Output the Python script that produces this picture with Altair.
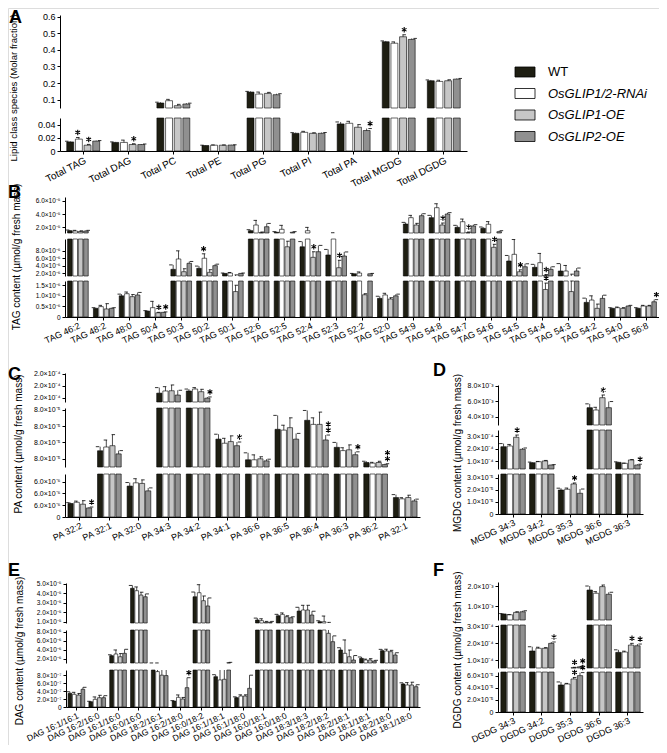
import altair as alt
import pandas as pd

W, H = 651, 737
M = 8  # page margin: page pixel -> plot pixel

GENOS = ["WT", "OsGLIP1/2-RNAi", "OsGLIP1-OE", "OsGLIP2-OE"]
FILLS = ["#1e1e12", "#ffffff", "#c6c6c6", "#909090"]
STAR_PATH = "M0,-1L0,1M-0.866,-0.5L0.866,0.5M-0.866,0.5L0.866,-0.5"

# ---------------- Panel A : lipid classes (molar fraction)
A_CATS = ["Total TAG", "Total DAG", "Total PC", "Total PE", "Total PG",
          "Total PI", "Total PA", "Total MGDG", "Total DGDG"]
A_WT = [0.0138, 0.0130, 0.080, 0.0083, 0.146, 0.0268, 0.041, 0.449, 0.214]
A_RNAI = [0.0180, 0.0130, 0.094, 0.0088, 0.134, 0.0283, 0.042, 0.440, 0.210]
A_OE1 = [0.0088, 0.0098, 0.064, 0.0088, 0.138, 0.0268, 0.036, 0.479, 0.214]
A_OE2 = [0.0150, 0.0098, 0.074, 0.0090, 0.130, 0.0268, 0.031, 0.463, 0.224]
A_WT_SD = [0.0010, 0.0008, 0.005, 0.0005, 0.004, 0.0010, 0.003, 0.005, 0.005]
A_RNAI_SD = [0.0025, 0.0035, 0.008, 0.0004, 0.012, 0.0015, 0.003, 0.008, 0.007]
A_OE1_SD = [0.0012, 0.0012, 0.008, 0.0004, 0.006, 0.0008, 0.004, 0.012, 0.006]
A_OE2_SD = [0.0008, 0.0008, 0.005, 0.0004, 0.006, 0.0012, 0.003, 0.006, 0.004]
A_STARS = [(0, 1, 1), (0, 2, 1), (1, 2, 1), (6, 3, 1), (7, 2, 1)]
A_T1 = [0.1, 0.2, 0.3, 0.4, 0.5, 0.6]
A_L1 = ["0.1", "0.2", "0.3", "0.4", "0.5", "0.6"]
A_T2 = [0, 0.02, 0.04]
A_L2 = ["0", "0.02", "0.04"]

# ---------------- Panel B : TAG species
B_CATS = ["TAG 46:2", "TAG 48:2", "TAG 48:0", "TAG 50:4", "TAG 50:3", "TAG 50:2",
          "TAG 50:1", "TAG 52:6", "TAG 52:5", "TAG 52:4", "TAG 52:3", "TAG 52:2",
          "TAG 52:0", "TAG 54:9", "TAG 54:8", "TAG 54:7", "TAG 54:6", "TAG 54:5",
          "TAG 54:4", "TAG 54:3", "TAG 54:2", "TAG 54:0", "TAG 56:8"]
B_WT = [1.50e-5, 0.41e-6, 1.00e-6, 0.28e-6, 3.00e-6, 3.28e-6, 1.90e-6, 1.50e-5,
        1.26e-5, 9.10e-6, 6.88e-6, 1.80e-6, 0.88e-6, 2.51e-5, 3.47e-5, 2.01e-5,
        1.86e-5, 5.25e-6, 3.55e-6, 2.55e-6, 0.69e-6, 0.41e-6, 0.41e-6]
B_RNAI = [1.45e-5, 0.49e-6, 1.10e-6, 0.44e-6, 5.80e-6, 6.00e-6, 2.00e-6, 2.36e-5,
          1.71e-5, 1.50e-5, 1.14e-5, 2.00e-6, 1.04e-6, 3.47e-5, 4.98e-5, 2.86e-5,
          2.47e-5, 7.06e-6, 4.80e-6, 2.55e-6, 0.80e-6, 0.44e-6, 0.52e-6]
B_OE1 = [1.38e-5, 0.38e-6, 0.96e-6, 0.20e-6, 2.36e-6, 2.20e-6, 1.20e-6, 1.20e-5,
         9.10e-6, 6.25e-6, 3.44e-6, 1.05e-6, 0.85e-6, 2.36e-5, 2.36e-5, 1.20e-5,
         8.96e-6, 2.36e-6, 1.30e-6, 1.20e-6, 0.41e-6, 0.41e-6, 0.52e-6]
B_OE2 = [1.45e-5, 0.41e-6, 1.04e-6, 0.22e-6, 4.63e-6, 4.00e-6, 1.90e-6, 2.10e-5,
         1.26e-5, 7.77e-6, 6.60e-6, 1.80e-6, 1.00e-6, 3.77e-5, 4.03e-5, 2.21e-5,
         1.35e-5, 3.70e-6, 3.00e-6, 2.55e-6, 0.88e-6, 0.52e-6, 0.72e-6]
B_WT_SD = [0.10e-5, 0.03e-6, 0.08e-6, 0.02e-6, 1.2e-6, 0.6e-6, 0.10e-6, 0.15e-5,
           0.10e-5, 1.4e-6, 1.5e-6, 0.10e-6, 0.10e-6, 0.25e-5, 0.35e-5, 0.30e-5,
           0.20e-5, 1.5e-6, 0.8e-6, 2.0e-6, 0.20e-6, 0.03e-6, 0.03e-6]
B_RNAI_SD = [0.10e-5, 0.06e-6, 0.08e-6, 0.30e-6, 2.2e-6, 1.2e-6, 0.15e-6, 0.70e-5,
             0.60e-5, 0.50e-5, 0.05e-5, 0.30e-6, 0.08e-6, 0.35e-5, 0.60e-5, 0.40e-5,
             0.40e-5, 4.0e-6, 2.5e-6, 1.5e-6, 0.20e-6, 0.03e-6, 0.03e-6]
B_OE1_SD = [0.10e-5, 0.25e-6, 0.10e-6, 0.02e-6, 0.8e-6, 0.7e-6, 0.30e-6, 0.10e-5,
            1.5e-6, 1.5e-6, 2.0e-6, 0.05e-6, 0.06e-6, 0.25e-5, 0.30e-5, 0.10e-5,
            0.8e-6, 0.5e-6, 0.3e-6, 0.5e-6, 0.20e-6, 0.03e-6, 0.03e-6]
B_OE2_SD = [0.10e-5, 0.03e-6, 0.12e-6, 0.02e-6, 0.5e-6, 0.4e-6, 0.10e-6, 0.50e-5,
            0.10e-5, 1.7e-6, 1.1e-6, 0.10e-6, 0.08e-6, 0.30e-5, 0.20e-5, 0.20e-5,
            0.15e-5, 0.8e-6, 0.7e-6, 0.8e-6, 0.15e-6, 0.03e-6, 0.10e-6]
B_STARS = [(3, 2, 1), (3, 3, 1), (5, 1, 1), (9, 2, 1), (10, 2, 1),
           (14, 2, 1), (15, 2, 1), (16, 2, 1), (17, 2, 1), (18, 2, 1),
           (22, 3, 1)]
B_T1 = [2e-5, 4e-5, 6e-5]
B_L1 = ["2.0×10⁻⁵", "4.0×10⁻⁵", "6.0×10⁻⁵"]
B_T2 = [2e-6, 4e-6, 6e-6, 8e-6]
B_L2 = ["2.0×10⁻⁶", "4.0×10⁻⁶", "6.0×10⁻⁶", "8.0×10⁻⁶"]
B_T3 = [0, 0.5e-6, 1.0e-6, 1.5e-6]
B_L3 = ["0", "0.5×10⁻⁶", "1.0×10⁻⁶", "1.5×10⁻⁶"]

# ---------------- Panel C : PA species
C_CATS = ["PA 32:2", "PA 32:1", "PA 32:0", "PA 34:3", "PA 34:2", "PA 34:1",
          "PA 36:6", "PA 36:5", "PA 36:4", "PA 36:3", "PA 36:2", "PA 32:1"]
C_WT = [2.29e-6, 7.698e-5, 5.25e-6, 1.70e-4, 1.79e-4, 7.84e-5, 7.588e-5, 7.96e-5,
        8.07e-5, 7.74e-5, 7.555e-5, 3.30e-6]
C_RNAI = [2.50e-6, 7.744e-5, 5.80e-6, 1.79e-4, 1.87e-4, 7.79e-5, 7.588e-5, 7.95e-5,
          8.02e-5, 7.70e-5, 7.547e-5, 3.08e-6]
C_OE1 = [2.17e-6, 7.76e-5, 5.70e-6, 1.80e-4, 1.76e-4, 7.81e-5, 7.60e-5, 7.98e-5,
         8.02e-5, 7.71e-5, 7.555e-5, 3.30e-6]
C_OE2 = [1.54e-6, 7.66e-5, 4.44e-6, 1.62e-4, 1.49e-4, 7.76e-5, 7.575e-5, 7.84e-5,
         7.83e-5, 7.65e-5, 7.53e-5, 2.73e-6]
C_WT_SD = [0.15e-6, 0.5e-6, 0.6e-6, 0.23e-4, 0.08e-4, 0.6e-6, 0.85e-6, 1.7e-6,
           1.2e-6, 0.6e-6, 0.15e-6, 0.5e-6]
C_RNAI_SD = [0.2e-6, 0.85e-6, 0.7e-6, 0.18e-4, 0.06e-4, 0.6e-6, 0.6e-6, 0.6e-6,
             0.8e-6, 0.35e-6, 0.1e-6, 0.2e-6]
C_OE1_SD = [0.6e-6, 1.35e-6, 0.6e-6, 0.24e-4, 0.10e-4, 0.7e-6, 0.25e-6, 1.2e-6,
            1.5e-6, 0.6e-6, 0.15e-6, 0.4e-6]
C_OE2_SD = [0.15e-6, 0.4e-6, 0.5e-6, 0.20e-4, 0.05e-4, 0.45e-6, 0.2e-6, 0.7e-6,
            0.6e-6, 0.35e-6, 0.1e-6, 0.3e-6]
C_STARS = [(0, 3, 1), (4, 3, 1), (5, 3, 1), (8, 3, 2), (9, 3, 1), (10, 3, 2)]
C_T1 = [1.5e-4, 2.0e-4, 2.5e-4]
C_L1 = ["2.0×10⁻⁴", "2.0×10⁻⁴", "2.0×10⁻⁴"]
C_T2 = [7.6e-5, 7.8e-5, 8.0e-5, 8.2e-5]
C_L2 = ["8.0×10⁻⁵", "8.0×10⁻⁵", "8.0×10⁻⁵", "8.0×10⁻⁵"]
C_T3 = [0, 2e-6, 4e-6, 6e-6]
C_L3 = ["0", "6.0×10⁻⁶", "6.0×10⁻⁶", "6.0×10⁻⁶"]

# ---------------- Panel D : MGDG species
D_CATS = ["MGDG 34:3", "MGDG 34:2", "MGDG 35:3", "MGDG 36:6", "MGDG 36:3"]
D_WT = [2.17e-4, 0.90e-4, 1.98e-5, 5.15e-3, 0.93e-4]
D_RNAI = [2.23e-4, 0.98e-4, 2.04e-5, 4.85e-3, 0.85e-4]
D_OE1 = [2.92e-4, 1.04e-4, 2.48e-5, 6.45e-3, 1.12e-4]
D_OE2 = [1.97e-4, 0.72e-4, 1.71e-5, 5.15e-3, 0.72e-4]
D_WT_SD = [0.25e-4, 0.05e-4, 0.15e-5, 0.50e-3, 0.04e-4]
D_RNAI_SD = [0.12e-4, 0.02e-4, 0.10e-5, 0.35e-3, 0.02e-4]
D_OE1_SD = [0.18e-4, 0.04e-4, 0.08e-5, 0.35e-3, 0.03e-4]
D_OE2_SD = [0.10e-4, 0.03e-4, 0.35e-5, 0.80e-3, 0.06e-4]
D_STARS = [(0, 2, 1), (2, 2, 1), (3, 2, 1), (4, 3, 1)]
D_T1 = [4e-3, 6e-3, 8e-3]
D_L1 = ["4.0×10⁻³", "6.0×10⁻³", "8.0×10⁻³"]
D_T2 = [1e-4, 2e-4, 3e-4]
D_L2 = ["1.0×10⁻⁴", "2.0×10⁻⁴", "3.0×10⁻⁴"]
D_T3 = [0, 1e-5, 2e-5, 3e-5]
D_L3 = ["0", "1.0×10⁻⁵", "2.0×10⁻⁵", "3.0×10⁻⁵"]

# ---------------- Panel E : DAG species
E_CATS = ["DAG 16:1/16:1", "DAG 16:2/16:0", "DAG 16:1/16:0", "DAG 16:0/16:0",
          "DAG 18:2/16:1", "DAG 16:2/18:0", "DAG 16:0/18:2", "DAG 16:1/18:1",
          "DAG 16:1/18:0", "DAG 16:0/18:1", "DAG 16:0/18:0", "DAG 18:3/18:3",
          "DAG 18:2/18:2", "DAG 18:2/18:1", "DAG 18:1/18:1", "DAG 18:2/18:0",
          "DAG 18:1/18:0"]
E_WT = [3.44e-7, 1.33e-7, 2.64e-6, 4.54e-5, 9.8e-7, 1.50e-7, 3.64e-5, 7.62e-7, 2.35e-7,
        1.17e-5, 1.62e-5, 2.12e-5, 0.99e-5, 3.92e-6, 2.05e-6, 3.76e-6, 5.78e-7]
E_RNAI = [3.19e-7, 1.93e-7, 3.02e-6, 4.28e-5, 8.9e-7, 2.43e-7, 4.07e-5, 6.80e-7, 2.76e-7,
          1.10e-5, 1.77e-5, 2.23e-5, 0.99e-5, 3.17e-6, 1.67e-6, 3.69e-6, 5.53e-7]
E_OE1 = [3.00e-7, 2.34e-7, 2.41e-6, 3.82e-5, 8.0e-7, 2.00e-7, 3.22e-5, 6.97e-7, 2.76e-7,
         0.92e-5, 1.52e-5, 2.23e-5, 7.66e-6, 2.41e-6, 1.67e-6, 3.54e-6, 5.53e-7]
E_OE2 = [4.45e-7, 2.34e-7, 3.17e-6, 3.64e-5, 7.9e-7, 4.86e-7, 2.66e-5, 1.05e-6, 4.70e-7,
         0.92e-5, 1.41e-5, 1.70e-5, 5.78e-6, 1.67e-6, 1.45e-6, 2.80e-6, 5.10e-7]
E_WT_SD = [0.4e-7, 0.1e-7, 0.2e-6, 0.3e-5, 0.3e-7, 0.1e-7, 0.5e-5, 0.5e-7, 0.2e-7,
           0.2e-5, 0.15e-5, 0.4e-5, 0.1e-5, 0.5e-6, 0.3e-6, 0.3e-6, 0.3e-7]
E_RNAI_SD = [0.5e-7, 0.6e-7, 0.9e-6, 0.4e-5, 1.2e-7, 0.6e-7, 0.85e-5, 2.7e-7, 0.3e-7,
             0.2e-5, 0.15e-5, 0.5e-5, 0.6e-5, 3.0e-6, 0.2e-6, 0.4e-6, 0.6e-7]
E_OE1_SD = [0.4e-7, 0.6e-7, 0.7e-6, 0.3e-5, 1.5e-7, 0.4e-7, 0.5e-5, 2.5e-7, 0.3e-7,
            0.1e-5, 0.1e-5, 0.5e-5, 1.5e-6, 1.5e-6, 0.3e-6, 0.3e-6, 0.7e-7]
E_OE2_SD = [0.5e-7, 0.5e-7, 0.9e-6, 0.3e-5, 1.7e-7, 2.5e-7, 0.85e-5, 0.1e-6, 3.3e-7,
            0.1e-5, 0.1e-5, 0.4e-5, 1.3e-6, 1.0e-6, 0.15e-6, 0.5e-6, 0.5e-7]
E_STARS = [(5, 3, 1)]
E_T1 = [1e-5, 2e-5, 3e-5, 4e-5, 5e-5]
E_L1 = ["1.0×10⁻⁵", "2.0×10⁻⁵", "3.0×10⁻⁵", "4.0×10⁻⁵", "5.0×10⁻⁵"]
E_T2 = [2e-6, 4e-6, 6e-6, 8e-6]
E_L2 = ["2.0×10⁻⁶", "4.0×10⁻⁶", "6.0×10⁻⁶", "8.0×10⁻⁶"]
E_T3 = [0, 2e-7, 4e-7, 6e-7, 8e-7]
E_L3 = ["0", "2.0×10⁻⁷", "4.0×10⁻⁷", "6.0×10⁻⁷", "8.0×10⁻⁷"]

# ---------------- Panel F : DGDG species
F_CATS = ["DGDG 34:3", "DGDG 34:2", "DGDG 35:3", "DGDG 36:6", "DGDG 36:3"]
F_WT = [0.61e-3, 1.53e-4, 4.46e-5, 1.80e-3, 1.45e-4]
F_RNAI = [0.57e-3, 1.69e-4, 4.62e-5, 1.64e-3, 1.47e-4]
F_OE1 = [0.69e-3, 1.69e-4, 5.45e-5, 1.97e-3, 1.88e-4]
F_OE2 = [0.72e-3, 1.98e-4, 6.00e-5, 1.59e-3, 1.84e-4]
F_WT_SD = [0.02e-3, 0.25e-4, 0.5e-5, 0.20e-3, 0.15e-4]
F_RNAI_SD = [0.01e-3, 0.06e-4, 0.1e-5, 0.08e-3, 0.05e-4]
F_OE1_SD = [0.03e-3, 0.04e-4, 0.25e-5, 0.08e-3, 0.10e-4]
F_OE2_SD = [0.05e-3, 0.08e-4, 0.5e-5, 0.10e-3, 0.10e-4]
F_STARS = [(1, 3, 1), (2, 2, 1), (2, 3, 1), (4, 2, 1), (4, 3, 1)]
F_T1 = [1e-3, 2e-3]
F_L1 = ["1.0×10⁻³", "2.0×10⁻³"]
F_T2 = [1e-4, 2e-4, 3e-4]
F_L2 = ["1.0×10⁻⁴", "2.0×10⁻⁴", "3.0×10⁻⁴"]
F_T3 = [0, 2e-5, 4e-5, 6e-5]
F_L3 = ["0", "2.0×10⁻⁵", "4.0×10⁻⁵", "6.0×10⁻⁵"]

FILL_SCALE = alt.Scale(domain=GENOS, range=FILLS)


def table(vals, sds, stars):
    rows = []
    for g, (vs, es) in enumerate(zip(vals, sds)):
        for i, (v, e) in enumerate(zip(vs, es)):
            rows.append({"idx": i, "geno": GENOS[g], "value": v, "top": v + e, "nstar": 0})
    df = pd.DataFrame(rows)
    for i, g, s in stars:
        df.loc[(df["idx"] == i) & (df["geno"] == GENOS[g]), "nstar"] = s
    return df


def y_label_expr(ticks, labels):
    expr = "''"
    for t, l in reversed(list(zip(ticks, labels))):
        tol = abs(t) * 1e-6 + 1e-20
        expr = "abs(datum.value - (%r)) <= %r ? '%s' : (%s)" % (t, tol, l, expr)
    return expr


def panel(cats, vals, sds, stars, x0, x1, segs, pin, pout, oin,
          ylab=7, xlab=9, xangle=-25):
    df = table(vals, sds, stars)
    n = len(cats)
    x_expr = "[" + ",".join("'%s'" % c for c in cats) + "][datum.value]"
    layers = []
    for k, (ytop, ybot, lo, hi, ticks, labels) in enumerate(segs):
        last = k == len(segs) - 1
        xs = alt.Scale(domain=list(range(n)), range=[x0 - M, x1 - M],
                       paddingInner=pin, paddingOuter=pout)
        osc = alt.Scale(domain=GENOS, paddingInner=oin, paddingOuter=0)
        ys = alt.Scale(domain=[lo, hi], range=[ybot - M, ytop - M],
                       clamp=True, nice=False, zero=False)
        if last:
            xaxis = alt.Axis(orient="bottom", offset=(ybot - M) - H, labelExpr=x_expr,
                             labelAngle=xangle, labelFontSize=xlab, labelOverlap=False,
                             tickSize=3, title=None, domainColor="black",
                             tickColor="black", labelColor="black", labelPadding=1)
        else:
            xaxis = None
        yaxis = alt.Axis(orient="left", offset=-(x0 - M), values=ticks,
                         labelExpr=y_label_expr(ticks, labels), labelFontSize=ylab,
                         labelOverlap=False, tickSize=3, title=None, grid=False,
                         domainColor="black", tickColor="black", labelColor="black",
                         labelPadding=2)
        xo = alt.XOffset("geno:N", scale=osc)
        base = alt.Chart(df)
        bars = base.transform_filter(alt.datum.value > lo).mark_bar(
            stroke="black", strokeWidth=0.6
        ).encode(
            x=alt.X("idx:O", scale=xs, axis=xaxis),
            xOffset=xo,
            y=alt.Y("value:Q", scale=ys, axis=yaxis),
            y2=alt.datum(lo),
            fill=alt.Fill("geno:N", scale=FILL_SCALE, legend=None),
        )
        rules = base.transform_filter(
            (alt.datum.top > lo) & (alt.datum.value < hi)
        ).mark_rule(color="black", strokeWidth=0.7).encode(
            x=alt.X("idx:O", scale=xs, axis=None),
            xOffset=xo,
            y=alt.Y("value:Q", scale=ys, axis=None),
            y2=alt.Y2("top:Q"),
        )
        caps = base.transform_filter(
            (alt.datum.top >= lo) & (alt.datum.top <= hi)
        ).mark_point(shape="stroke", size=12, color="black", strokeWidth=0.8,
                     opacity=1, filled=False).encode(
            x=alt.X("idx:O", scale=xs, axis=None),
            xOffset=xo,
            y=alt.Y("top:Q", scale=ys, axis=None),
        )
        layers += [bars, rules, caps]
        for j, yoff in [(1, -5), (2, -11)]:
            layers.append(base.transform_filter(
                (alt.datum.nstar >= j) & (alt.datum.top >= lo) & (alt.datum.top <= hi)
            ).mark_point(shape=STAR_PATH, size=30, color="black", strokeWidth=1.1,
                         opacity=1, filled=False, yOffset=yoff).encode(
                x=alt.X("idx:O", scale=xs, axis=None),
                xOffset=xo,
                y=alt.Y("top:Q", scale=ys, axis=None),
            ))
    return layers


def label(text, px, py, size, angle=0, weight="normal", align="center", baseline="middle"):
    return alt.Chart(pd.DataFrame({"t": [text]})).mark_text(
        fontSize=size, angle=angle, fontWeight=weight, align=align,
        baseline=baseline, color="black"
    ).encode(x=alt.value(px - M), y=alt.value(py - M), text="t:N")


layers = []
layers += panel(A_CATS, [A_WT, A_RNAI, A_OE1, A_OE2], [A_WT_SD, A_RNAI_SD, A_OE1_SD, A_OE2_SD],
                A_STARS, 60, 467,
                [(15, 108, 0.05, 0.61, A_T1, A_L1), (118, 151, 0, 0.05, A_T2, A_L2)],
                0.27, 0.15, 0.2, ylab=9, xlab=10, xangle=-27)
layers += panel(B_CATS, [B_WT, B_RNAI, B_OE1, B_OE2], [B_WT_SD, B_RNAI_SD, B_OE1_SD, B_OE2_SD],
                B_STARS, 65, 659,
                [(197, 233, 1.15e-5, 6.6e-5, B_T1, B_L1),
                 (239, 276, 1.2e-6, 1.12e-5, B_T2, B_L2),
                 (281, 317, 0, 1.7e-6, B_T3, B_L3)],
                0.2, 0.1, 0.15, ylab=6.5)
layers += panel(C_CATS, [C_WT, C_RNAI, C_OE1, C_OE2], [C_WT_SD, C_RNAI_SD, C_OE1_SD, C_OE2_SD],
                C_STARS, 65, 420,
                [(373, 402, 1.33e-4, 2.54e-4, C_T1, C_L1),
                 (408, 467, 7.5e-5, 8.22e-5, C_T2, C_L2),
                 (474, 517, 0, 7.3e-6, C_T3, C_L3)],
                0.2, 0.1, 0.15)
layers += panel(D_CATS, [D_WT, D_RNAI, D_OE1, D_OE2], [D_WT_SD, D_RNAI_SD, D_OE1_SD, D_OE2_SD],
                D_STARS, 498, 643,
                [(385, 425, 2.9e-3, 8.1e-3, D_T1, D_L1),
                 (430, 469, 0.4e-4, 3.5e-4, D_T2, D_L2),
                 (474, 514, 0, 3.3e-5, D_T3, D_L3)],
                0.15, 0.1, 0.15)
layers += panel(E_CATS, [E_WT, E_RNAI, E_OE1, E_OE2], [E_WT_SD, E_RNAI_SD, E_OE1_SD, E_OE2_SD],
                E_STARS, 66, 420,
                [(583, 623, 0.85e-5, 5.1e-5, E_T1, E_L1),
                 (630, 663, 1.0e-6, 8.4e-6, E_T2, E_L2),
                 (670, 707, 0, 9.3e-7, E_T3, E_L3)],
                0.2, 0.1, 0.15, ylab=6.5, xlab=8.5)
layers += panel(F_CATS, [F_WT, F_RNAI, F_OE1, F_OE2], [F_WT_SD, F_RNAI_SD, F_OE1_SD, F_OE2_SD],
                F_STARS, 498, 643,
                [(582, 620, 3.1e-4, 2.2e-3, F_T1, F_L1),
                 (625, 668, 0.53e-4, 3.06e-4, F_T2, F_L2),
                 (672, 712, 0, 6.6e-5, F_T3, F_L3)],
                0.15, 0.1, 0.15)

# panel letters
for letter, px, py in [("A", 9, 9), ("B", 8, 184), ("C", 8, 366), ("D", 433, 362),
                       ("E", 8, 562), ("F", 433, 562)]:
    layers.append(label(letter, px, py, 18, weight="bold", align="left", baseline="top"))

# y-axis titles
for txt, px, py, sz in [("Lipid class species (Molar fraction)", 14, 88, 9.6),
                        ("TAG content (µmol/g fresh mass)", 17, 257, 10),
                        ("PA content (µmol/g fresh mass)", 19, 444, 10),
                        ("MGDG content (µmol/g fresh mass)", 458, 453, 10),
                        ("DAG content (µmol/g fresh mass)", 20, 651, 10),
                        ("DGDG content (µmol/g fresh mass)", 458, 650, 10)]:
    layers.append(label(txt, px, py, sz, angle=270))

# legend
leg_df = pd.DataFrame({"geno": GENOS})
layers.append(alt.Chart(leg_df).mark_rect(stroke="black", strokeWidth=0.8).encode(
    x=alt.value(515 - M), x2=alt.value(535 - M),
    y=alt.Y("geno:N", scale=alt.Scale(type="band", domain=GENOS,
                                      range=[67 - M, 141.5 - M],
                                      paddingInner=0.535, paddingOuter=0), axis=None),
    fill=alt.Fill("geno:N", scale=FILL_SCALE, legend=None),
))
leg_y = alt.Y("geno:N", scale=alt.Scale(type="point", domain=GENOS,
                                         range=[72 - M, 136.5 - M], padding=0), axis=None)
layers.append(alt.Chart(leg_df).transform_filter(alt.datum.geno == "WT").mark_text(
    align="left", baseline="middle", fontSize=13, color="black"
).encode(x=alt.value(548 - M), y=leg_y, text="geno:N"))
layers.append(alt.Chart(leg_df).transform_filter(alt.datum.geno != "WT").mark_text(
    align="left", baseline="middle", fontSize=13, fontStyle="italic", color="black"
).encode(x=alt.value(548 - M), y=leg_y, text="geno:N"))

chart = alt.layer(*layers).properties(
    width=W, height=H, padding=0,
    autosize=alt.AutoSizeParams(type="none"),
).resolve_scale(
    x="independent", y="independent", xOffset="independent"
).configure_view(stroke=None).configure(font="Liberation Sans")

chart.save("out.html", embed_options={"renderer": "svg", "actions": False})
